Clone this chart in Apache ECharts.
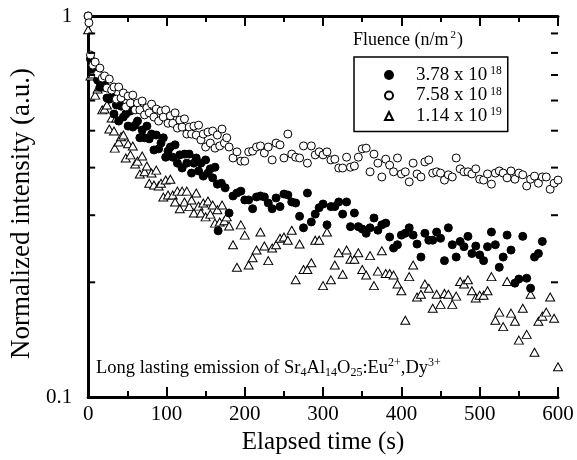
<!DOCTYPE html>
<html><head><meta charset="utf-8">
<script src="https://cdn.jsdelivr.net/npm/echarts@6/dist/echarts.min.js"></script>
<style>html,body{margin:0;padding:0;background:#fff}#c{width:577px;height:460px}</style>
</head><body><div id="c"></div><script>
// ---- data: [time (s), normalized intensity] ----
const filledData = [
 [0,1.0],
 [3,0.771],[6,0.725],[9,0.730],[12,0.679],[15,0.651],[18,0.659],[21,0.659],[24,0.609],[27,0.605],[30,0.613],
 [33,0.553],[36,0.584],[39,0.530],[42,0.580],[45,0.543],[48,0.553],[51,0.514],[54,0.563],[57,0.511],[60,0.517],
 [63,0.530],[66,0.479],[69,0.502],[72,0.479],[75,0.514],[78,0.476],[81,0.490],[84,0.445],[87,0.487],[90,0.448],
 [93,0.464],[96,0.479],[99,0.426],[102,0.442],[105,0.453],[108,0.426],[111,0.459],[114,0.411],[117,0.432],[120,0.399],
 [123,0.434],[126,0.411],[129,0.434],[132,0.387],[135,0.411],[138,0.424],[141,0.392],[144,0.411],[147,0.380],[150,0.419],
 [153,0.387],[156,0.397],[159,0.376],[162,0.401],[165,0.362],[166,0.273],
 [170,0.364],[175,0.354],[180,0.304],[185,0.337],[190,0.343],[195,0.347],[200,0.329],[205,0.329],[210,0.312],[215,0.335],
 [220,0.337],[225,0.335],[230,0.323],[235,0.312],[240,0.333],[245,0.316],[250,0.341],[255,0.339],[260,0.325],[265,0.323],
 [270,0.298],[275,0.278],[280,0.343],[285,0.288],[290,0.302],[295,0.314],[300,0.321],[305,0.283],[310,0.316],[315,0.316],
 [320,0.325],[325,0.302],[330,0.325],[335,0.280],[340,0.304],[345,0.280],[350,0.276],[355,0.269],[360,0.278],[365,0.295],
 [370,0.274],[375,0.283],[380,0.286],[385,0.263],[390,0.246],[395,0.251],[400,0.266],[405,0.269],[410,0.278],[415,0.266],
 [420,0.252],[425,0.233],[430,0.269],[435,0.258],[440,0.258],[445,0.271],[450,0.261],[455,0.228],[460,0.278],[465,0.251],
 [470,0.233],[475,0.256],[480,0.248],[485,0.264],[490,0.238],[495,0.249],[500,0.236],[505,0.228],[510,0.248],[515,0.271],
 [520,0.251],[525,0.219],[530,0.233],[535,0.266],[540,0.243],[545,0.199],[550,0.204],[555,0.264],[560,0.205],[565,0.193],
 [570,0.233],[575,0.238],[580,0.256]
];
const openData = [
 [0,1.0],[1,0.96],
 [3,0.790],[6,0.743],[9,0.757],[12,0.704],[15,0.730],[18,0.687],[21,0.696],[24,0.647],[27,0.683],[30,0.639],
 [33,0.651],[36,0.605],[39,0.651],[42,0.609],[45,0.628],[48,0.577],[51,0.616],[54,0.591],[57,0.620],[60,0.567],
 [63,0.591],[66,0.567],[69,0.598],[72,0.550],[75,0.574],[78,0.557],[81,0.587],[84,0.543],[87,0.570],[90,0.530],
 [93,0.563],[96,0.543],[99,0.567],[102,0.523],[105,0.547],[108,0.523],[111,0.557],[114,0.508],[117,0.533],[120,0.511],
 [123,0.537],[126,0.490],[129,0.511],[132,0.490],[135,0.514],[138,0.487],[141,0.517],[144,0.473],[147,0.490],[150,0.453],
 [153,0.496],[156,0.464],[159,0.499],[162,0.450],[165,0.487],[168,0.456],[171,0.505],[174,0.464],[177,0.479],[180,0.453],
 [185,0.424],[190,0.440],[195,0.416],[200,0.416],[205,0.440],[210,0.442],[215,0.453],[220,0.456],[225,0.437],[230,0.453],
 [235,0.419],[240,0.464],[245,0.459],[250,0.424],[255,0.490],[260,0.434],[265,0.426],[270,0.424],[275,0.456],[280,0.411],
 [285,0.456],[290,0.432],[295,0.440],[300,0.432],[305,0.440],[310,0.419],[315,0.421],[320,0.399],[325,0.399],[330,0.426],
 [335,0.401],[340,0.404],[345,0.426],[350,0.448],[355,0.450],[360,0.390],[365,0.434],[370,0.411],[375,0.378],[380,0.421],
 [385,0.406],[390,0.390],[395,0.424],[400,0.385],[405,0.390],[410,0.367],[415,0.411],[420,0.385],[425,0.378],[430,0.414],
 [435,0.419],[440,0.387],[445,0.390],[450,0.387],[455,0.371],[460,0.383],[465,0.378],[470,0.424],[475,0.397],[480,0.390],
 [485,0.390],[490,0.385],[495,0.397],[500,0.373],[505,0.371],[510,0.385],[515,0.362],[520,0.387],[525,0.392],[530,0.387],
 [535,0.376],[540,0.392],[545,0.373],[550,0.387],[555,0.383],[560,0.358],[565,0.373],[570,0.380],[575,0.364],[580,0.378],
 [585,0.378],[590,0.351],[595,0.364],[600,0.371]
];
const triData = [
 [0,0.92],[34,0.450],
 [3,0.696],[6,0.704],[9,0.620],[12,0.643],[15,0.651],[18,0.567],[21,0.570],[24,0.584],[27,0.505],[30,0.540],
 [33,0.499],[36,0.540],[39,0.467],[42,0.482],[45,0.487],[48,0.424],[51,0.462],[54,0.432],[57,0.456],[60,0.409],
 [63,0.416],[66,0.385],[69,0.429],[72,0.390],[75,0.404],[78,0.364],[81,0.387],[84,0.360],[87,0.394],[90,0.358],
 [93,0.364],[96,0.335],[99,0.371],[102,0.339],[105,0.373],[108,0.339],[111,0.325],[114,0.347],[117,0.312],[120,0.347],
 [123,0.325],[126,0.347],[129,0.316],[132,0.329],[135,0.304],[138,0.343],[141,0.317],[144,0.304],[147,0.323],[150,0.297],
 [153,0.327],[156,0.302],[159,0.319],[162,0.286],[165,0.310],[168,0.288],[171,0.319],[174,0.290],[177,0.297],[180,0.281],
 [185,0.251],[190,0.219],[195,0.283],[200,0.266],[205,0.222],[210,0.232],[215,0.243],[220,0.271],[225,0.249],[230,0.228],
 [235,0.246],[240,0.251],[245,0.261],[250,0.263],[255,0.258],[260,0.274],[265,0.203],[270,0.252],[275,0.216],[280,0.216],
 [285,0.225],[290,0.258],[295,0.258],[300,0.196],[305,0.271],[310,0.203],[315,0.222],[320,0.239],[325,0.210],[330,0.243],
 [335,0.230],[340,0.230],[345,0.239],[350,0.216],[355,0.209],[360,0.235],[365,0.196],[370,0.214],[375,0.242],[380,0.211],
 [385,0.211],[390,0.209],[395,0.198],[400,0.190],[405,0.159],[410,0.207],[415,0.222],[420,0.183],[425,0.186],[430,0.198],
 [435,0.193],[440,0.171],[445,0.186],[450,0.175],[455,0.187],[460,0.186],[465,0.175],[470,0.184],[475,0.201],[480,0.198],
 [485,0.203],[490,0.190],[495,0.182],[500,0.185],[505,0.185],[510,0.190],[515,0.207],[520,0.159],[525,0.167],[530,0.153],
 [535,0.201],[540,0.166],[545,0.158],[550,0.141],[555,0.171],[560,0.146],[565,0.186],[570,0.131],[575,0.158],[580,0.163],
 [585,0.167],[590,0.183],[595,0.161],[600,0.120]
];
const seriesNames = ['3.78e18', '7.58e18', '1.14e19'];
const legendBase = ['3.78 x 10', '7.58 x 10', '1.14 x 10'];
const legendExp = ['18', '18', '19'];
const yMinorTicks = [0.2, 0.3, 0.4, 0.5, 0.6, 0.7, 0.8, 0.9];
const xMin = 0, xMax = 600, xInterval = 100;
const yMin = 0.1, yMax = 1;

const FONT = 'Liberation Serif';
const chart = echarts.init(document.getElementById('c'), null, {renderer: 'canvas'});
const axisLine = {show: true, lineStyle: {color: '#000', width: 3}};
const txt = (size, extra) => Object.assign({fontFamily: FONT, fontSize: size, fontWeight: 'normal', color: '#000'}, extra || {});
const option = {
  backgroundColor: '#fff',
  animation: false,
  grid: {left: 81, right: 19, top: 16, bottom: 63},
  title: [
    {text: '{a|Fluence (n/m}{s|2}{a|)}', left: 353, top: 30, padding: 0,
     textStyle: {fontWeight: 'normal', rich: {
       a: txt(18, {lineHeight: 20}),
       s: txt(11, {lineHeight: 20, verticalAlign: 'top', padding: [0, 1, 0, 2]})
     }}},
    {text: '{a|Long lasting emission of Sr}{b|4}{a|Al}{b|14}{a|O}{b|25}{a|:Eu}{s|2+}{a|,Dy}{s|3+}', left: 96, top: 357, padding: 0,
     textStyle: {fontWeight: 'normal', rich: {
       a: txt(18.5, {lineHeight: 22}),
       b: txt(12, {lineHeight: 22, verticalAlign: 'bottom'}),
       s: txt(12, {lineHeight: 22, verticalAlign: 'top'})
     }}}
  ],
  legend: {
    data: seriesNames,
    orient: 'vertical',
    left: 354, top: 57,
    padding: [8, 6, 6, 30],
    itemGap: 1,
    itemWidth: 8, itemHeight: 8,
    borderColor: '#000', borderWidth: 1.5, borderRadius: 0,
    selectedMode: false,
    formatter: function (name) {
      const i = seriesNames.indexOf(name);
      return '{t|' + legendBase[i] + '}{s|' + legendExp[i] + '}';
    },
    textStyle: {rich: {
      t: txt(19, {lineHeight: 20, padding: [0, 0, 0, 18]}),
      s: txt(11.5, {lineHeight: 20, verticalAlign: 'top', padding: [0, 0, 0, 3]})
    }}
  },
  xAxis: [
    {type: 'value', min: xMin, max: xMax, interval: xInterval, position: 'bottom',
     name: 'Elapsed time (s)', nameLocation: 'middle', nameGap: 30,
     nameTextStyle: txt(25),
     axisLine: axisLine,
     axisTick: {show: true, inside: true, length: 10, lineStyle: {color: '#000', width: 2}},
     minorTick: {show: true, splitNumber: 2, length: 6, lineStyle: {color: '#000', width: 2}},
     axisLabel: txt(21, {margin: 7}),
     splitLine: {show: false}},
    {type: 'value', min: xMin, max: xMax, interval: xInterval, position: 'top',
     axisLine: axisLine,
     axisTick: {show: true, inside: true, length: 10, lineStyle: {color: '#000', width: 2}},
     minorTick: {show: true, splitNumber: 2, length: 6, lineStyle: {color: '#000', width: 2}},
     axisLabel: {show: false}, splitLine: {show: false}}
  ],
  yAxis: [
    {type: 'log', logBase: 10, min: yMin, max: yMax, position: 'left',
     name: 'Normalized intensity (a.u.)', nameLocation: 'middle', nameGap: 50, nameRotate: 90,
     nameTextStyle: txt(27, {padding: [0, 14, 0, 0]}),
     axisLine: axisLine,
     axisTick: {show: false},
     axisLabel: txt(21, {margin: 16, formatter: function (v) { return v >= 1 ? '1' : String(v); }}),
     splitLine: {show: false}},
    {type: 'log', logBase: 10, min: yMin, max: yMax, position: 'right',
     axisLine: axisLine, axisTick: {show: false}, axisLabel: {show: false}, splitLine: {show: false}}
  ],
  series: [
    {type: 'custom', silent: true, xAxisIndex: 0, yAxisIndex: 0, clip: false, z: 5,
     data: yMinorTicks.map(v => [xMin, v]),
     renderItem: function (params, api) {
       const v = api.value(1);
       const pl = api.coord([xMin, v]);
       const pr = api.coord([xMax, v]);
       return {type: 'group', children: [
         {type: 'line', shape: {x1: pl[0], y1: pl[1], x2: pl[0] + 7, y2: pl[1]}, style: {stroke: '#000', lineWidth: 2}},
         {type: 'line', shape: {x1: pr[0] - 7, y1: pr[1], x2: pr[0], y2: pr[1]}, style: {stroke: '#000', lineWidth: 2}}
       ]};
     }},
    {name: seriesNames[2], type: 'scatter', data: triData, symbol: 'triangle', symbolSize: [9, 8], clip: false,
     itemStyle: {color: '#fff', borderColor: '#000', borderWidth: 1, opacity: 1}},
    {name: seriesNames[0], type: 'scatter', data: filledData, symbol: 'circle', symbolSize: 8, clip: false,
     itemStyle: {color: '#000', borderColor: '#000', borderWidth: 1, opacity: 1}},
    {name: seriesNames[1], type: 'scatter', data: openData, symbol: 'circle', symbolSize: 8, clip: false,
     itemStyle: {color: '#fff', borderColor: '#000', borderWidth: 1, opacity: 1}}
  ]
};
chart.setOption(option);
</script></body></html>
